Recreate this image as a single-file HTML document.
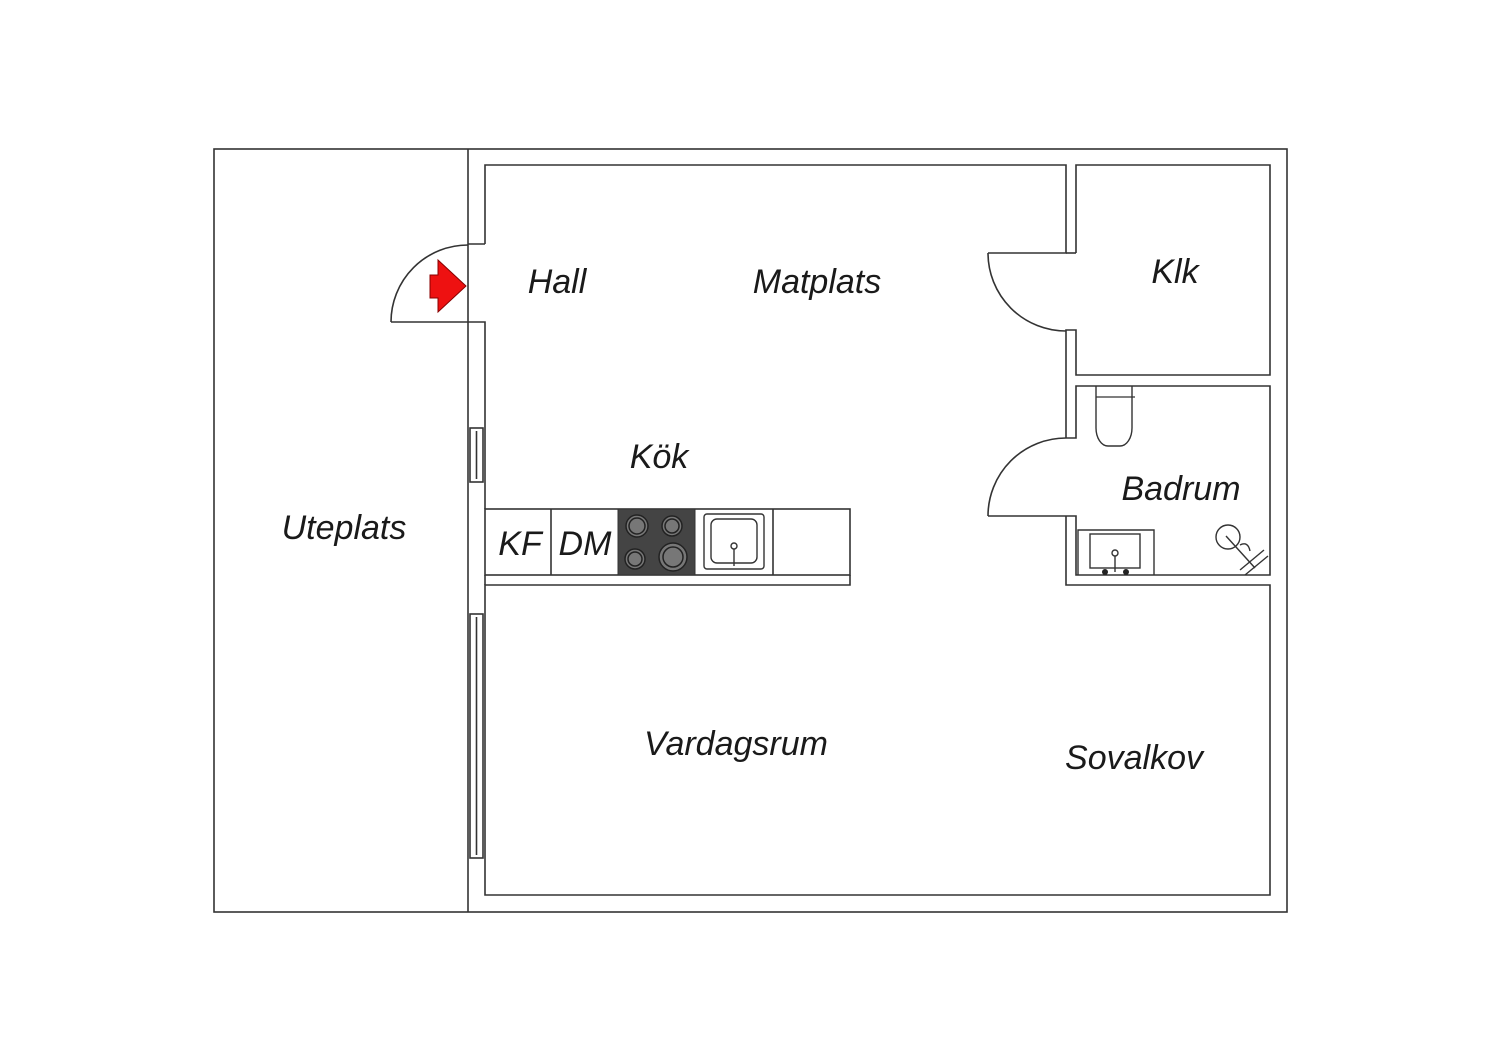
<!DOCTYPE html>
<html><head><meta charset="utf-8"><style>
html,body{margin:0;padding:0;background:#fff;}
svg{display:block}
text{font-family:"Liberation Sans",sans-serif;font-style:italic;fill:#1a1a1a;}
</style></head><body>
<svg width="1500" height="1060" viewBox="0 0 1500 1060" xmlns="http://www.w3.org/2000/svg">
<g fill="none" stroke="#333" stroke-width="1.6">
<rect x="214" y="149" width="1073" height="763"/>
<line x1="468" y1="149" x2="468" y2="912"/>
<polyline points="485,244 485,165 1066,165 1066,253 988,253"/>
<polyline points="468,244 485,244"/>
<polyline points="391,322 485,322 485,509"/>
<path d="M391,322 A77,77 0 0 1 468,245"/>
<polyline points="1076,253 1076,165 1270,165 1270,375 1076,375 1076,330 1066,330 1066,438"/>
<line x1="1066" y1="253" x2="1076" y2="253"/>
<path d="M988,253 A78,78 0 0 0 1066,331"/>
<polyline points="1066,438 1076,438 1076,386 1270,386 1270,575 1076,575 1076,516 988,516"/>
<path d="M1066,438 A78,78 0 0 0 988,516"/>
<polyline points="1066,516 1066,585 1270,585 1270,895 485,895 485,585 850,585 850,575"/>
<rect x="485" y="509" width="365" height="66"/>
<line x1="485" y1="575" x2="485" y2="585"/>
<line x1="551" y1="509" x2="551" y2="575"/>
<line x1="773" y1="509" x2="773" y2="575"/>
<rect x="470" y="428" width="13" height="54"/>
<line x1="476.5" y1="431" x2="476.5" y2="479"/>
<rect x="470" y="614" width="13" height="244"/>
<line x1="476.5" y1="617" x2="476.5" y2="855"/>
</g>
<rect x="618" y="509" width="77" height="66" fill="#444" stroke="#333"/>
<g stroke="#222" stroke-width="1.5" fill="#777">
<circle cx="637" cy="526" r="11"/><circle cx="637" cy="526" r="8"/>
<circle cx="672" cy="526" r="10"/><circle cx="672" cy="526" r="7"/>
<circle cx="635" cy="559" r="10"/><circle cx="635" cy="559" r="7"/>
<circle cx="673" cy="557" r="14"/><circle cx="673" cy="557" r="10"/>
</g>
<g fill="none" stroke="#333" stroke-width="1.4">
<rect x="704" y="514" width="60" height="55" rx="3"/>
<rect x="711" y="519" width="46" height="44" rx="6"/>
<circle cx="734" cy="546" r="3"/><line x1="734" y1="549" x2="734" y2="566"/>
</g>
<path d="M1096,386 V428 a12,18 0 0 0 12,18 h12 a12,18 0 0 0 12,-18 V386" fill="none" stroke="#333" stroke-width="1.4"/>
<line x1="1096" y1="397" x2="1135" y2="397" stroke="#333" stroke-width="1.2"/>
<g fill="none" stroke="#333" stroke-width="1.4">
<polyline points="1078,575 1078,530 1154,530 1154,575"/>
<rect x="1090" y="534" width="50" height="34"/>
<circle cx="1115" cy="553" r="3"/><line x1="1115" y1="556" x2="1115" y2="572"/>
</g>
<circle cx="1105" cy="572" r="3" fill="#222"/><circle cx="1126" cy="572" r="3" fill="#222"/>
<g fill="none" stroke="#333" stroke-width="1.4">
<circle cx="1228" cy="537" r="12"/>
<line x1="1226" y1="536" x2="1255" y2="568"/>
<path d="M1240,545 q8,-4 10,6"/>
<line x1="1240" y1="570" x2="1264" y2="550"/>
<line x1="1245" y1="575" x2="1268" y2="556"/>
</g>
<polygon points="438,260 466,286 438,312 438,298 430,298 430,275 438,275" fill="#ee1111" stroke="#800" stroke-width="1"/>
<g font-size="34" text-anchor="middle">
<text x="557" y="293">Hall</text>
<text x="817" y="293">Matplats</text>
<text x="1175" y="283">Klk</text>
<text x="659" y="468">Kök</text>
<text x="1181" y="500">Badrum</text>
<text x="344" y="539">Uteplats</text>
<text x="736" y="755">Vardagsrum</text>
<text x="1134" y="769">Sovalkov</text>
<text x="520" y="555">KF</text>
<text x="585" y="555">DM</text>
</g>
</svg>
</body></html>
